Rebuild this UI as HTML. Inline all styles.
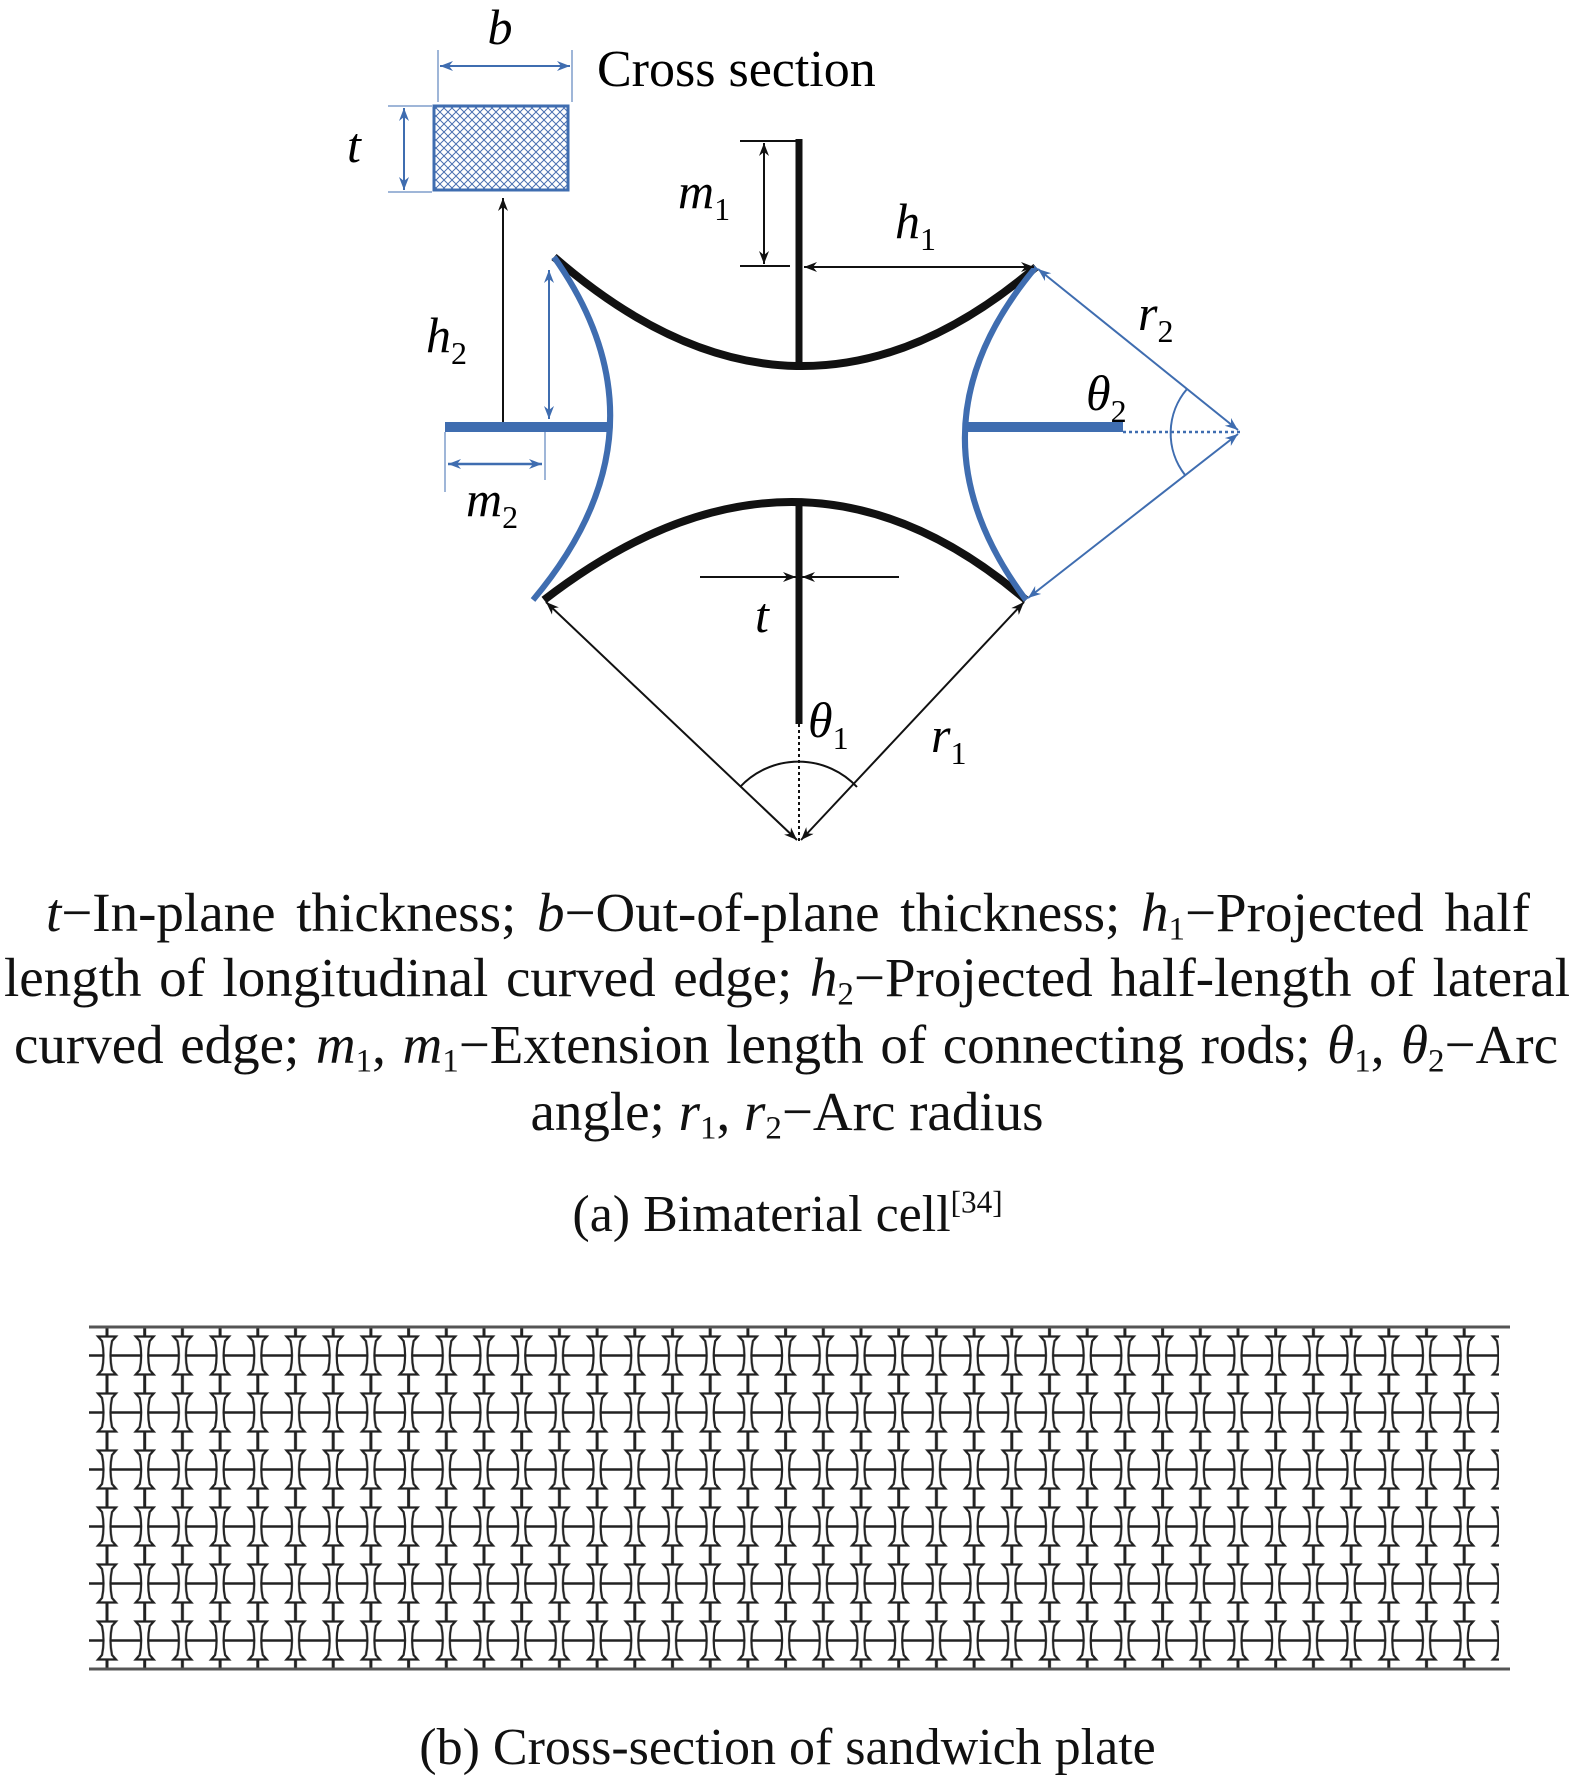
<!DOCTYPE html>
<html><head><meta charset="utf-8"><style>
body{margin:0;background:#fff;width:1575px;height:1770px;position:relative;overflow:hidden;font-family:"Liberation Serif",serif;color:#111}
.l{position:absolute;left:6px;width:1562px;font-size:55px;line-height:60px;white-space:nowrap}
.j{text-align:justify;text-align-last:justify}
.c{text-align:center}
i{font-style:italic}
sub{font-size:0.6em;vertical-align:-0.25em;line-height:0}
svg text{font-family:"Liberation Serif",serif}
</style></head><body>
<svg width="1575" height="1770" style="position:absolute;left:0;top:0">
<defs>
<pattern id="hatch" width="8" height="8" patternUnits="userSpaceOnUse">
<path d="M0,0L8,8M8,0L0,8" stroke="#4a6fb0" stroke-width="1"/>
</pattern>
<marker id="ab" markerWidth="14" markerHeight="10" refX="13" refY="5" orient="auto-start-reverse" markerUnits="userSpaceOnUse"><path d="M0,0L13,5L0,10L4,5z" fill="#111"/></marker>
<marker id="au" markerWidth="14" markerHeight="10" refX="13" refY="5" orient="auto-start-reverse" markerUnits="userSpaceOnUse"><path d="M0,0L13,5L0,10L4,5z" fill="#3f6db0"/></marker>
<pattern id="lat" x="89" y="1327" width="37.7" height="57" patternUnits="userSpaceOnUse">
<line x1="0" y1="28.5" x2="37.7" y2="28.5" stroke="#222" stroke-width="2.5"/>
<line x1="18" y1="0" x2="18" y2="57" stroke="#222" stroke-width="3"/>
<path d="M9,9.5L27,9.5L23,14Q20,28.5 23,43L27,47.5L9,47.5L13,43Q16,28.5 13,14z" fill="#fff" stroke="#222" stroke-width="2.2"/>
</pattern>
</defs>
<text x="500" y="44" font-size="50" font-style="italic" text-anchor="middle">b</text>
<line x1="438" y1="50" x2="438" y2="102" stroke="#3f6db0" stroke-width="1"/>
<line x1="572" y1="50" x2="572" y2="102" stroke="#3f6db0" stroke-width="1"/>
<line x1="440" y1="66" x2="570" y2="66" stroke="#3f6db0" stroke-width="2" marker-start="url(#au)" marker-end="url(#au)"/>
<text x="597" y="86" font-size="52">Cross section</text>
<rect x="434" y="106" width="134" height="84" fill="url(#hatch)" stroke="#3f6db0" stroke-width="3"/>
<line x1="388" y1="106" x2="432" y2="106" stroke="#3f6db0" stroke-width="1"/>
<line x1="388" y1="192" x2="432" y2="192" stroke="#3f6db0" stroke-width="1"/>
<line x1="404" y1="108" x2="404" y2="190" stroke="#3f6db0" stroke-width="2" marker-start="url(#au)" marker-end="url(#au)"/>
<text x="354" y="162" font-size="50" font-style="italic" text-anchor="middle">t</text>
<line x1="503" y1="427" x2="503" y2="198" stroke="#111" stroke-width="2" marker-end="url(#ab)"/>
<path d="M554,257Q798,470 1036,267" fill="none" stroke="#111" stroke-width="8"/>
<path d="M544,600Q798,404 1026,600" fill="none" stroke="#111" stroke-width="8"/>
<path d="M554,257Q676,430 533,600" fill="none" stroke="#3f6db0" stroke-width="6"/>
<path d="M1036,267Q899,430 1026,600" fill="none" stroke="#3f6db0" stroke-width="6"/>
<line x1="799" y1="139" x2="799" y2="364" stroke="#111" stroke-width="7"/>
<line x1="799" y1="502" x2="799" y2="724" stroke="#111" stroke-width="7"/>
<line x1="799" y1="724" x2="799" y2="842" stroke="#111" stroke-width="2" stroke-dasharray="3,3"/>
<line x1="445" y1="427" x2="610" y2="427" stroke="#3f6db0" stroke-width="10"/>
<line x1="968" y1="427" x2="1123" y2="427" stroke="#3f6db0" stroke-width="10"/>
<line x1="1123" y1="432" x2="1240" y2="432" stroke="#3f6db0" stroke-width="2.5" stroke-dasharray="3,3"/>
<line x1="740" y1="141" x2="800" y2="141" stroke="#111" stroke-width="2"/>
<line x1="740" y1="266" x2="790" y2="266" stroke="#111" stroke-width="2"/>
<line x1="764" y1="143" x2="764" y2="264" stroke="#111" stroke-width="2" marker-start="url(#ab)" marker-end="url(#ab)"/>
<text x="678" y="208" font-size="50" font-style="italic">m<tspan font-size="32" font-style="normal" dy="12">1</tspan></text>
<line x1="804" y1="267" x2="1034" y2="267" stroke="#111" stroke-width="2" marker-start="url(#ab)" marker-end="url(#ab)"/>
<text x="895" y="238" font-size="50" font-style="italic">h<tspan font-size="32" font-style="normal" dy="12">1</tspan></text>
<line x1="1038" y1="269" x2="1238" y2="430" stroke="#3f6db0" stroke-width="2" marker-start="url(#au)" marker-end="url(#au)"/>
<line x1="1238" y1="434" x2="1028" y2="598" stroke="#3f6db0" stroke-width="2" marker-start="url(#au)" marker-end="url(#au)"/>
<path d="M1187,389A68,68 0 0 0 1185,475" fill="none" stroke="#3f6db0" stroke-width="2"/>
<text x="1138" y="330" font-size="50" font-style="italic">r<tspan font-size="32" font-style="normal" dy="12">2</tspan></text>
<text x="1086" y="410" font-size="50" font-style="italic">θ<tspan font-size="32" font-style="normal" dy="12">2</tspan></text>
<line x1="549" y1="270" x2="549" y2="419" stroke="#3f6db0" stroke-width="2" marker-start="url(#au)" marker-end="url(#au)"/>
<text x="426" y="352" font-size="50" font-style="italic">h<tspan font-size="32" font-style="normal" dy="12">2</tspan></text>
<line x1="445" y1="432" x2="445" y2="492" stroke="#3f6db0" stroke-width="1"/>
<line x1="545" y1="432" x2="545" y2="480" stroke="#3f6db0" stroke-width="1"/>
<line x1="448" y1="464" x2="542" y2="464" stroke="#3f6db0" stroke-width="2.5" marker-start="url(#au)" marker-end="url(#au)"/>
<text x="466" y="516" font-size="50" font-style="italic">m<tspan font-size="32" font-style="normal" dy="12">2</tspan></text>
<line x1="700" y1="577" x2="796" y2="577" stroke="#111" stroke-width="2" marker-end="url(#ab)"/>
<line x1="899" y1="577" x2="802" y2="577" stroke="#111" stroke-width="2" marker-end="url(#ab)"/>
<text x="762" y="632" font-size="50" font-style="italic" text-anchor="middle">t</text>
<line x1="546" y1="602" x2="797" y2="840" stroke="#111" stroke-width="2" marker-start="url(#ab)" marker-end="url(#ab)"/>
<line x1="1024" y1="602" x2="801" y2="840" stroke="#111" stroke-width="2" marker-start="url(#ab)" marker-end="url(#ab)"/>
<path d="M740,787A80,80 0 0 1 857,787" fill="none" stroke="#111" stroke-width="2"/>
<text x="808" y="737" font-size="50" font-style="italic">θ<tspan font-size="32" font-style="normal" dy="12">1</tspan></text>
<text x="931" y="752" font-size="50" font-style="italic">r<tspan font-size="32" font-style="normal" dy="12">1</tspan></text>
<rect x="89" y="1327" width="1410" height="341" fill="url(#lat)"/>
<line x1="89" y1="1327" x2="1510" y2="1327" stroke="#555" stroke-width="3"/>
<line x1="89" y1="1669" x2="1510" y2="1669" stroke="#555" stroke-width="3"/>
</svg>
<div class="l j" style="top:883px;left:46px;width:1484px"><i>t</i>−In-plane thickness; <i>b</i>−Out-of-plane thickness; <i>h</i><sub>1</sub>−Projected half</div>
<div class="l j" style="top:948px;left:4px;width:1566px">length of longitudinal curved edge; <i>h</i><sub>2</sub>−Projected half-length of lateral</div>
<div class="l j" style="top:1015px;left:14px;width:1544px">curved edge; <i>m</i><sub>1</sub>, <i>m</i><sub>1</sub>−Extension length of connecting rods; <i>θ</i><sub>1</sub>, <i>θ</i><sub>2</sub>−Arc</div>
<div class="l c" style="top:1082px">angle; <i>r</i><sub>1</sub>, <i>r</i><sub>2</sub>−Arc radius</div>
<div class="l c" style="top:1185px;left:0;width:1575px;font-size:52px">(a) Bimaterial cell<sup style="font-size:0.6em;vertical-align:0.6em;line-height:0">[34]</sup></div>
<div class="l c" style="top:1718px;left:0;width:1575px;font-size:52px">(b) Cross-section of sandwich plate</div>
</body></html>
